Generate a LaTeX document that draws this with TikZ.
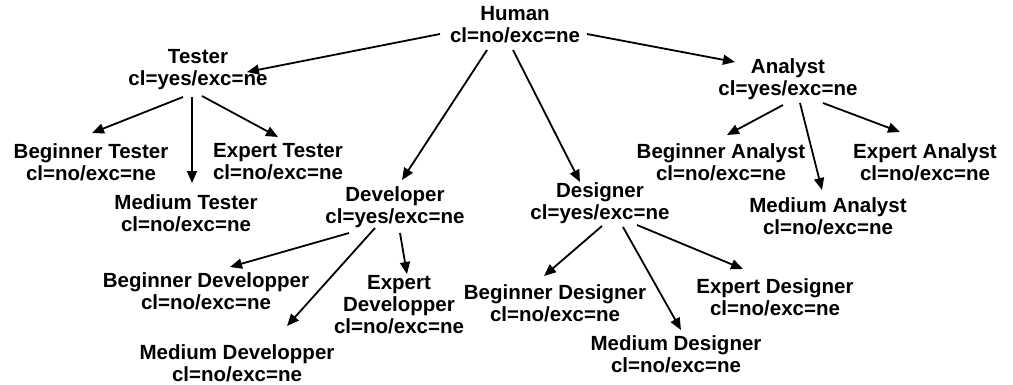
\documentclass[tikz,border=0pt]{standalone}
\usepackage{fontspec}
\setmainfont{Liberation Sans}
\usetikzlibrary{arrows.meta}
\begin{document}
\begin{tikzpicture}[x=1pt,y=-1pt,
  role/.style={font=\fontsize{20.5}{22}\selectfont\bfseries, align=center, inner sep=0pt},
  arr/.style={line width=1.8pt, -{Triangle[length=12pt,width=10pt]}}]
\useasboundingbox (0,0) rectangle (1013,384);

% hierarchy nodes
\node[role] (human)  at (515,25)    {Human\\cl=no/exc=ne};
\node[role] (tester) at (198,70)    {Tester\\cl=yes/exc=ne};
\node[role] (analyst) at (788,79)   {Analyst\\cl=yes/exc=ne};
\node[role] (dev)    at (395,207)   {Developer\\cl=yes/exc=ne};
\node[role] (des)    at (600,203)   {Designer\\cl=yes/exc=ne};

\node[role] (btest)  at (91,162)    {Beginner Tester\\cl=no/exc=ne};
\node[role] (mtest)  at (186,213)   {Medium Tester\\cl=no/exc=ne};
\node[role] (etest)  at (278,162)   {Expert Tester\\cl=no/exc=ne};

\node[role] (bana)   at (721,162)   {Beginner Analyst\\cl=no/exc=ne};
\node[role] (mana)   at (828,216)   {Medium Analyst\\cl=no/exc=ne};
\node[role] (eana)   at (925,162)   {Expert Analyst\\cl=no/exc=ne};

\node[role] (bdev)   at (206,291)   {Beginner Developper\\cl=no/exc=ne};
\node[role] (mdev)   at (237,363)   {Medium Developper\\cl=no/exc=ne};
\node[role] (edev)   at (399,305)   {Expert\\Developper\\cl=no/exc=ne};

\node[role] (bdes)   at (555,303)   {Beginner Designer\\cl=no/exc=ne};
\node[role] (mdes)   at (676,354)   {Medium Designer\\cl=no/exc=ne};
\node[role] (edes)   at (775,297)   {Expert Designer\\cl=no/exc=ne};

% connectors
\draw[arr] ([shift={(-75,9)}]human.center) -- ([shift={(49,2)}]tester.center);
\draw[arr] ([shift={(72,9)}]human.center) -- ([shift={(-53,-17)}]analyst.center);
\draw[arr] ([shift={(-28,25)}]human.center) -- ([shift={(7,-27)}]dev.center);
\draw[arr] ([shift={(-2,25)}]human.center) -- ([shift={(-20,-21)}]des.center);

\draw[arr] ([shift={(-15,27)}]tester.center) -- ([shift={(1,-29)}]btest.center);
\draw[arr] ([shift={(-6,27)}]tester.center) -- ([shift={(6,-30)}]mtest.center);
\draw[arr] ([shift={(4,26)}]tester.center) -- ([shift={(0,-25)}]etest.center);

\draw[arr] ([shift={(-5,26)}]analyst.center) -- ([shift={(6,-27)}]bana.center);
\draw[arr] ([shift={(12,24)}]analyst.center) -- ([shift={(-6,-26)}]mana.center);
\draw[arr] ([shift={(35,24)}]analyst.center) -- ([shift={(-25,-30)}]eana.center);

\draw[arr] ([shift={(-46,26)}]dev.center) -- ([shift={(24,-24)}]bdev.center);
\draw[arr] ([shift={(-20,21)}]dev.center) -- ([shift={(50,-37)}]mdev.center);
\draw[arr] ([shift={(5,26)}]dev.center) -- ([shift={(8,-31)}]edev.center);

\draw[arr] ([shift={(2,23)}]des.center) -- ([shift={(-11,-27)}]bdes.center);
\draw[arr] ([shift={(23,24)}]des.center) -- ([shift={(5,-24)}]mdes.center);
\draw[arr] ([shift={(37,22)}]des.center) -- ([shift={(-32,-28)}]edes.center);
\end{tikzpicture}
\end{document}
